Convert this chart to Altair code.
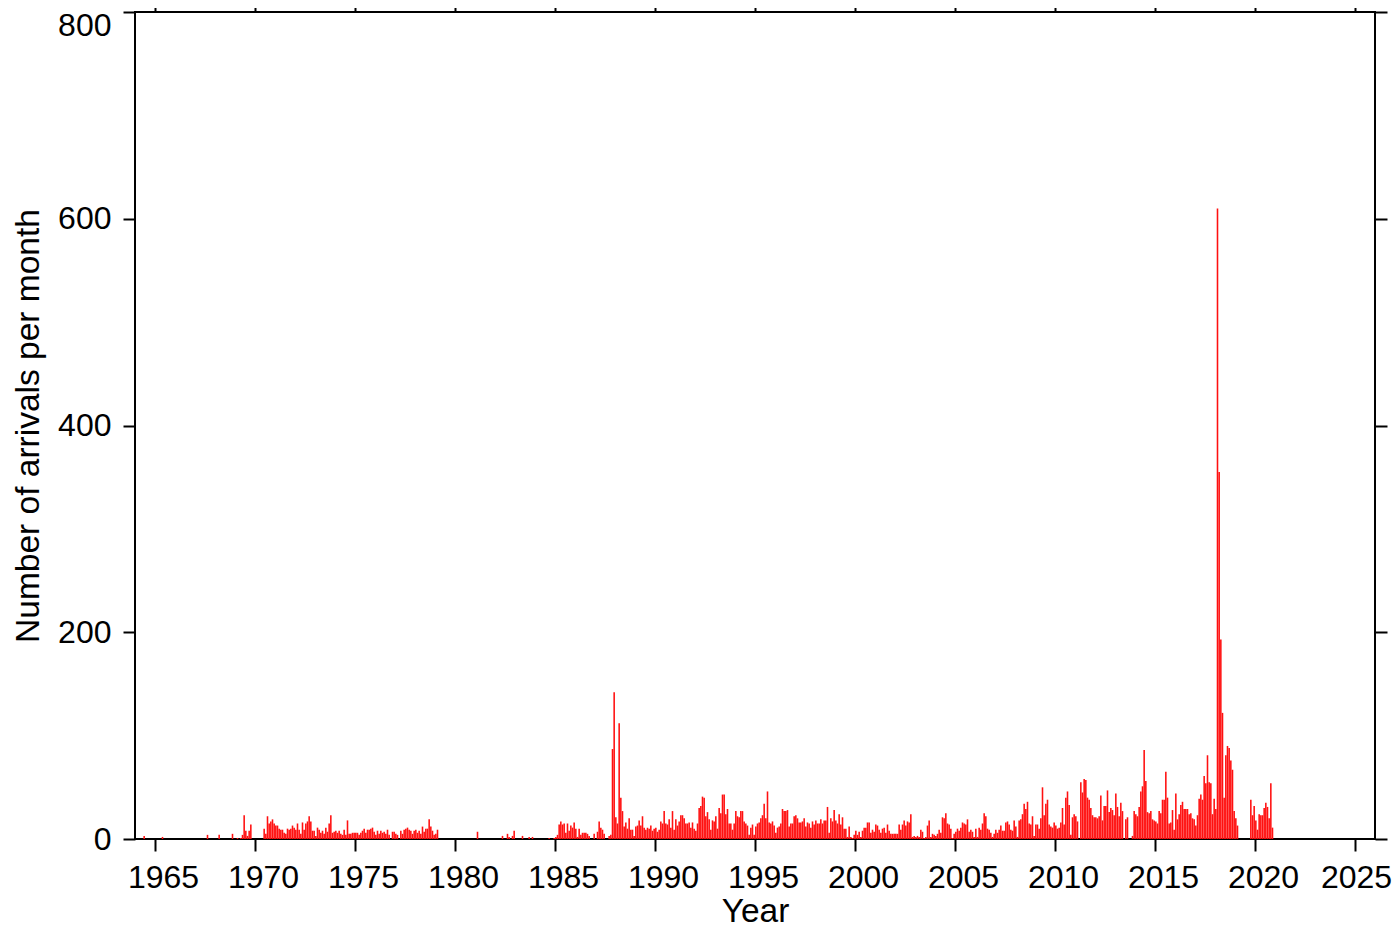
import altair as alt
import pandas as pd

START_YEAR = 1964  # month index 0 = Jan 1964

# Scattered early months (index from Jan 1964) and their counts
early_months = [5, 16, 43, 50, 58, 61, 63, 64, 65, 66, 67, 68, 69]
early_values = [3, 2, 4, 4, 5, 1, 1, 4, 23, 8, 3, 8, 14]

# Continuous run starting Jun 1970 (index 77)
seg_1970_start = 77
seg_1970 = [10, 5, 22, 15, 17, 19, 15, 13, 13, 10, 9, 9, 6, 5, 10, 9, 10, 13, 11, 9,
            15, 9, 5, 16, 9, 15, 17, 22, 17, 8, 8, 3, 11, 9, 6, 8, 5, 11, 7, 15,
            23, 6, 7, 8, 6, 8, 5, 4, 9, 4, 18, 5, 5, 6, 6, 6, 6, 4, 6, 8,
            10, 6, 9, 9, 10, 11, 7, 4, 8, 5, 8, 6]

seg_1976_start = 149
seg_1976 = [7, 5, 9, 4, 0, 7, 7, 5, 4, 0, 8, 5, 9, 10, 11, 9, 8, 5, 8, 9,
            6, 8, 5, 12, 7, 10, 10, 19, 12, 8, 4, 5, 9]

# Scattered 1981-1984
mid_months = [205, 220, 223, 224, 226, 227, 232, 236, 238, 248, 251]
mid_values = [7, 3, 5, 2, 3, 8, 3, 2, 2, 1, 1]

seg_1985_start = 252
seg_1985 = [2, 4, 14, 17, 14, 15, 6, 15, 8, 13, 11, 16, 10, 2, 10, 4, 6, 6, 6, 5,
            3, 0, 0, 5, 0, 7, 17, 11, 9, 5, 0, 0, 3, 4, 87, 142, 21, 15, 112, 40,
            27, 12, 16, 10, 20]

seg_1988_start = 297
seg_1988 = [9, 9, 3, 12, 13, 18, 13, 22, 11, 9, 11, 10, 13, 8, 10, 11, 7, 9, 17, 15,
            27, 15, 14, 19, 11, 27, 9, 19, 13, 17, 23, 23, 20, 15, 15, 16, 11, 16, 10, 8,
            15, 30, 32, 41, 40, 22, 26, 19, 9, 18, 17, 22, 10, 30, 25, 43, 43, 24, 29, 15,
            15, 9, 15, 27, 22, 21, 27, 27, 17, 15, 13, 4, 11, 14]

seg_1994_start = 371
seg_1994 = [4, 12, 15, 16, 20, 23, 34, 20, 46, 16, 15, 17, 13, 6, 11, 12, 15, 29, 27, 27,
            28, 12, 15, 15, 22, 23, 20, 16, 16, 17, 20, 12, 16, 15, 11, 17, 14, 18, 15, 15,
            19, 15, 18, 18, 31, 6, 20, 17, 28, 18, 15, 24, 14, 21, 10, 10, 2, 12, 2, 1,
            4, 8, 4, 7, 2, 8, 11, 11, 16, 16, 6, 9, 7, 14, 13]

seg_2001_start = 446
seg_2001 = [9, 6, 10, 11, 6, 14, 8, 5, 5, 5, 5, 5, 14, 9, 14, 18, 13, 17, 16, 24,
            2, 3, 2, 3, 2, 9, 7, 1, 2, 13, 18, 2, 5, 4, 3, 5, 9, 6, 21, 20,
            25, 15, 14, 10, 1, 5, 7, 10, 8, 11, 16, 15, 14, 19, 7, 9, 7, 2, 10, 2,
            11, 9, 15, 25, 22, 10, 9, 6, 2, 5, 9, 6, 9, 13, 8, 9, 17, 15]

seg_2007_start = 521
seg_2007 = [8, 16, 17, 14, 9, 8, 18, 12, 2, 18, 19, 24, 34, 29, 36, 15, 14, 22, 3, 14,
            14, 10, 20, 50, 23, 34, 38, 14, 12, 11, 16, 13, 10, 11, 16, 30, 14, 40, 46, 33,
            4, 21, 24, 22, 17, 0, 55, 45, 58, 57, 40, 38, 30, 23, 21, 21, 20, 22, 42, 18,
            32, 32, 47, 26, 30, 28, 23, 44, 31, 22, 35, 27, 0, 19, 21, 0, 0, 3]

seg_2013_start = 599
seg_2013 = [27, 24, 22, 31, 46, 51, 86, 56, 26, 25, 27, 19, 18, 17, 15, 27, 25, 38, 38, 65,
            40, 15, 16, 28, 9, 44, 19, 24, 33, 36, 29, 29, 29, 24, 25, 20, 19, 13, 23, 39,
            43, 38, 61, 54, 81, 55, 54, 24, 39, 29, 610, 355, 193, 122, 40, 81, 90, 88, 76, 67,
            27, 20, 13]

seg_2019_start = 669
seg_2019 = [38, 23, 32, 18, 9, 24, 23, 23, 30, 35, 31, 20, 54, 11]

x_tick_years = list(range(1965, 2030, 5))
y_tick_values = [0, 200, 400, 600, 800]

counts = {}
for m, v in zip(early_months, early_values):
    counts[m] = v
for m, v in zip(mid_months, mid_values):
    counts[m] = v
for start, vals in [(seg_1970_start, seg_1970), (seg_1976_start, seg_1976),
                    (seg_1985_start, seg_1985), (seg_1988_start, seg_1988),
                    (seg_1994_start, seg_1994), (seg_2001_start, seg_2001),
                    (seg_2007_start, seg_2007), (seg_2013_start, seg_2013),
                    (seg_2019_start, seg_2019)]:
    for i, v in enumerate(vals):
        counts[start + i] = v

rows = []
for m in sorted(counts):
    v = counts[m]
    if v <= 0:
        continue
    rows.append({"t0": START_YEAR + (m + 0.03) / 12.0,
                 "t1": START_YEAR + (m + 0.97) / 12.0,
                 "n": v})
df = pd.DataFrame(rows)

FONT = "Liberation Sans"
FS = 32
TFS = 33.5

x_scale = alt.Scale(domain=[1964, 2026], nice=False, zero=False)
y_scale = alt.Scale(domain=[0, 800], nice=False)

bars = alt.Chart(df).mark_rect(color="#ff1010").encode(
    x=alt.X("t0:Q", scale=x_scale,
            axis=alt.Axis(orient="bottom", values=x_tick_years, format="d",
                          title="Year", tickSize=12, tickWidth=2, tickColor="black",
                          labelFontSize=FS, titleFontSize=TFS, labelFont=FONT, titleFont=FONT,
                          labelPadding=11, titlePadding=2, titleFontWeight="normal",
                          labelOffset={"condition": {"test": "datum.value == 2025", "value": 1},
                                       "value": 8},
                          labelColor="black", titleColor="black", labelFlush=False,
                          domain=False, grid=False, labelOverlap=False)),
    x2="t1:Q",
    y=alt.Y("n:Q", scale=y_scale,
            axis=alt.Axis(orient="left", values=y_tick_values, format="d",
                          title="Number of arrivals per month", tickSize=12, tickWidth=2,
                          tickColor="black", labelFontSize=FS, titleFontSize=TFS,
                          labelFont=FONT, titleFont=FONT, labelPadding=12, titlePadding=12,
                          labelOffset={"condition": {"test": "datum.value == 800", "value": 13},
                                       "value": 0},
                          titleFontWeight="normal", labelColor="black", titleColor="black",
                          labelFlush=False, domain=False, grid=False)),
    y2=alt.datum(0),
)

frame = alt.Chart(df).mark_point(opacity=0).encode(
    x=alt.X("t0:Q", scale=x_scale,
            axis=alt.Axis(orient="top", values=x_tick_years, labels=False, title=None,
                          tickSize=12, tickWidth=2, tickColor="black", domain=False, grid=False)),
    y=alt.Y("n:Q", scale=y_scale,
            axis=alt.Axis(orient="right", values=y_tick_values, labels=False, title=None,
                          tickSize=12, tickWidth=2, tickColor="black", domain=False, grid=False)),
)

chart = alt.layer(bars, frame).resolve_axis(x="independent", y="independent").properties(
    width=1240, height=827,
    autosize=alt.AutoSizeParams(type="none"),
    padding={"left": 127, "top": 4, "right": 17, "bottom": 88},
).configure_view(stroke="black", strokeWidth=2)

chart.save("out.html", embed_options={"renderer": "svg", "actions": False})
